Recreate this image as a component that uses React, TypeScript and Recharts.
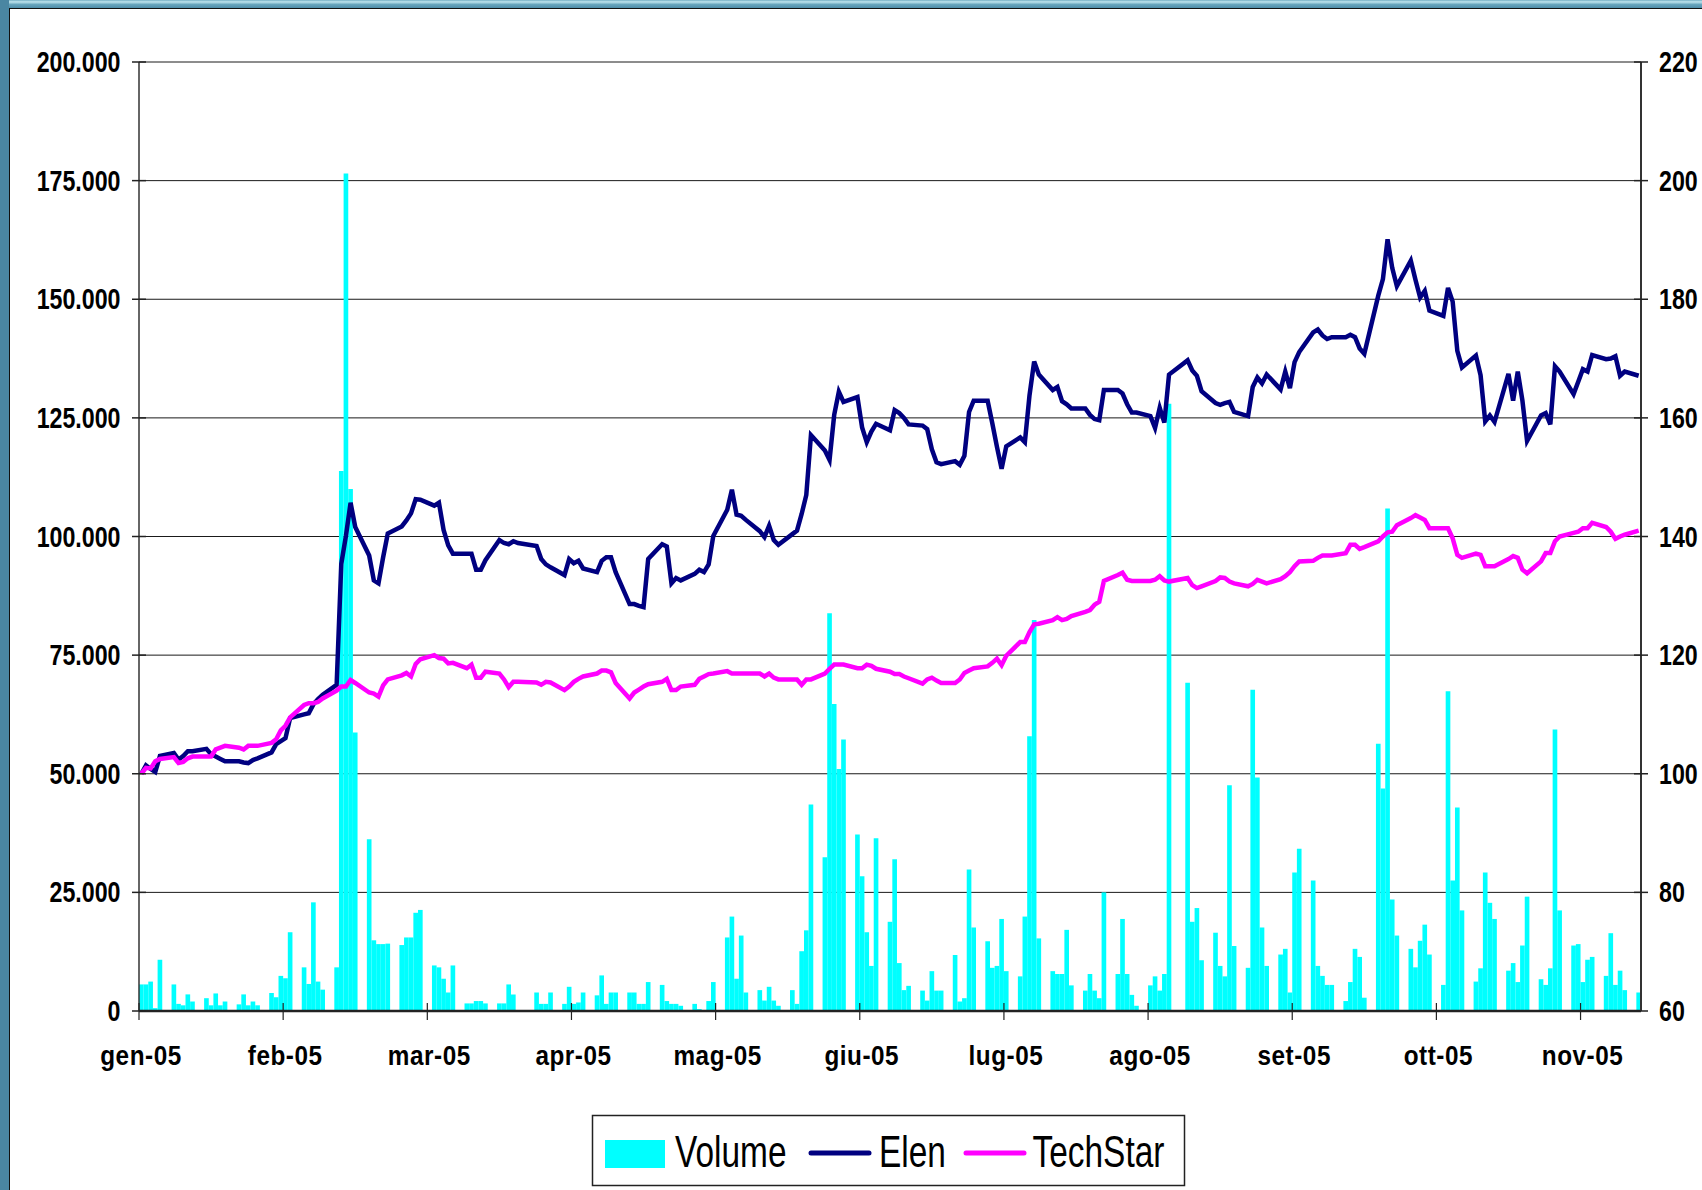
import React from 'react';
import { ComposedChart, Bar, Line, XAxis, YAxis, CartesianGrid } from 'recharts';

// ---- Calendar: trading days from 03/01/2005 to 21/11/2005 (weekends and exchange holidays skipped)
const START_DATE = '2005-01-03';
const LAST_DAY_OFFSET = 322;
const HOLIDAYS = ['2005-03-28', '2005-08-15'];

// ---- Daily traded volume (left axis), one row per week (Mon..Fri)
const volume = [
  5600, 5600, 6200, 600, 10800,
  5600, 1500, 1200, 3500, 2000,
  2700, 1200, 3700, 1200, 2000,
  1400, 3500, 1200, 2000, 1200,
  3800, 2900, 7400, 6900, 16600,
  9200, 5700, 22900, 6200, 4500,
  9200, 113800, 176500, 110000, 58700,
  36200, 14900, 14100, 14100, 14200,
  13900, 15500, 15500, 20700, 21300,
  9600, 9200, 6800, 3900, 9600,
  1600, 1600, 2100, 2100, 1600,
  1600, 1600, 5600, 3500, 0,
  3900, 1500, 1500, 3900,
  1500, 5100, 1500, 1800, 3900,
  3300, 7500, 1500, 3900, 3900,
  3900, 3900, 1500, 1500, 6100,
  5500, 2100, 1500, 1500, 1100,
  1500, 400, 0, 2100, 6100,
  15500, 19900, 6800, 15900, 3900,
  4400, 2200, 5100, 2200, 1100,
  4400, 1500, 12600, 17000, 43500,
  32400, 83800, 64700, 51000, 57200,
  37200, 28400, 16600, 9500, 36400,
  18800, 32000, 10100, 4400, 5300,
  4300, 2200, 8400, 4300, 4300,
  11800, 2000, 2700, 29800, 17600,
  14700, 9100, 9500, 19400, 8400,
  7300, 19900, 57900, 82400, 15300,
  8400, 7800, 7800, 17100, 5400,
  4300, 7800, 4300, 2700, 25000,
  7800, 19400, 7800, 3400, 1100,
  5400, 7300, 4300, 7800, 128000,
  69200, 18800, 21700, 10700,
  16500, 9500, 7300, 47600, 13700,
  9100, 67700, 49200, 17600, 9500,
  11900, 13100, 3900, 29200, 34200,
  27500, 9500, 7400, 5500, 5500,
  2100, 6100, 13100, 11400, 2800,
  56300, 46900, 105900, 23500, 15900,
  13100, 9200, 14800, 18200, 11900,
  5500, 67400, 27500, 42900, 21200,
  6200, 9000, 29200, 22800, 19400,
  8500, 10100, 6100, 13800, 24100,
  6700, 5500, 9000, 59300, 21200,
  13800, 14100, 6100, 10800, 11400,
  7400, 16400, 5500, 8500, 4400,
  3900,
];

// ---- Elen, indexed to 100 (right axis)
const elen = [
  100, 101.4, 100.8, 100.3, 103.0,
  103.5, 102.4, 103.0, 103.8, 103.8,
  104.2, 103.3, 102.9, 102.5, 102.1,
  102.1, 101.9, 101.8, 102.3, 102.6,
  103.6, 105.0, 105.5, 106.0, 109.4,
  110.0, 110.2, 111.7, 112.6, 113.3,
  115.0, 135.4, 140.1, 145.7, 141.6,
  136.8, 132.6, 132.1, 136.5, 140.5,
  141.7, 142.7, 143.9, 146.3, 146.2,
  145.2, 145.7, 141.1, 138.5, 137.1,
  137.1, 137.1, 134.4, 134.4, 136.0,
  139.4, 138.9, 138.7, 139.2, 138.9,
  138.4, 136.2, 135.3, 134.8,
  133.5, 136.2, 135.5, 135.9, 134.6,
  134.0, 135.9, 136.5, 136.5, 134.0,
  128.6, 128.6, 128.3, 128.1, 136.2,
  138.7, 138.3, 132.1, 133.0, 132.6,
  133.7, 134.4, 134.0, 135.3, 140.1,
  144.5, 147.9, 143.7, 143.5, 142.8,
  140.9, 139.9, 141.8, 139.4, 138.6,
  140.4, 141.0, 143.8, 147.0, 157.1,
  154.5, 152.9, 160.5, 164.4, 162.7,
  163.5, 158.4, 155.9, 157.7, 159.0,
  157.9, 161.3, 160.8, 160.0, 158.9,
  158.7, 158.1, 154.7, 152.5, 152.2,
  152.7, 152.1, 153.6, 161.0, 162.9,
  162.9, 159.1, 155.1, 151.4, 155.2,
  156.7, 155.9, 163.8, 169.5, 167.3,
  164.7, 165.2, 162.8, 162.3, 161.6,
  161.6, 160.5, 159.8, 159.6, 164.7,
  164.7, 164.1, 162.3, 160.9, 160.9,
  160.3, 158.3, 161.7, 159.2, 167.3,
  169.7, 168.0, 167.1, 164.5,
  162.5, 162.2, 162.5, 162.7, 161.0,
  160.3, 165.2, 166.8, 165.8, 167.3,
  164.8, 167.8, 165.0, 169.4, 171.1,
  174.4, 174.9, 173.9, 173.3, 173.6,
  173.6, 174.0, 173.6, 171.7, 170.8,
  180.6, 183.4, 190.1, 185.3, 182.2,
  186.5, 183.3, 180.3, 181.4, 178.1,
  177.2, 181.9, 179.6, 171.3, 168.5,
  170.5, 167.2, 159.4, 160.4, 159.3,
  167.4, 162.9, 167.8, 162.9, 156.1,
  160.4, 160.8, 158.9, 168.7, 167.8,
  164.0, 166.1, 168.2, 167.8, 170.6,
  169.9, 170.0, 170.4, 167.1, 167.8,
  167.1,
];

// ---- TechStar index, rebased to 100 (right axis)
const techStar = [
  100, 101.0, 100.9, 102.1, 102.5,
  102.8, 101.8, 102.0, 102.6, 102.9,
  102.9, 102.9, 104.1, 104.4, 104.7,
  104.4, 104.1, 104.7, 104.7, 104.7,
  105.2, 105.8, 107.3, 108.1, 109.5,
  111.6, 111.9, 111.9, 112.1, 112.7,
  114.0, 114.7, 114.7, 115.8, 115.3,
  113.7, 113.5, 113.0, 114.9, 115.9,
  116.6, 117.0, 116.4, 118.5, 119.3,
  120.0, 119.5, 119.4, 118.6, 118.7,
  117.8, 118.4, 116.2, 116.2, 117.2,
  116.9, 115.9, 114.6, 115.5, 115.5,
  115.4, 115.0, 115.5, 115.4,
  114.1, 114.7, 115.5, 116.0, 116.4,
  116.9, 117.4, 117.4, 117.1, 115.3,
  112.7, 113.7, 114.2, 114.7, 115.1,
  115.5, 116.0, 114.1, 114.1, 114.7,
  115.0, 116.0, 116.4, 116.8, 116.9,
  117.3, 116.9, 116.9, 116.9, 116.9,
  116.9, 116.4, 116.9, 116.2, 115.9,
  115.9, 115.9, 115.0, 115.9, 115.9,
  116.9, 117.7, 118.4, 118.4, 118.4,
  117.8, 117.8, 118.4, 118.2, 117.7,
  117.2, 116.8, 116.8, 116.4, 116.1,
  115.2, 115.9, 116.2, 115.7, 115.3,
  115.3, 115.9, 117.0, 117.4, 117.8,
  118.1, 118.7, 119.4, 118.3, 119.9,
  122.2, 122.2, 123.9, 125.2, 125.3,
  125.9, 126.4, 125.9, 126.1, 126.6,
  127.3, 127.6, 128.5, 129.0, 132.5,
  133.5, 133.9, 132.7, 132.5, 132.5,
  132.5, 132.7, 133.3, 132.6, 132.4,
  133.0, 131.8, 131.3, 131.6,
  132.5, 133.1, 133.0, 132.4, 132.1,
  131.6, 132.0, 132.7, 132.4, 132.1,
  132.8, 133.3, 134.0, 135.0, 135.8,
  135.9, 136.4, 136.8, 136.8, 136.8,
  137.2, 138.6, 138.6, 137.9, 138.2,
  139.2, 140.0, 140.7, 140.8, 141.9,
  143.1, 143.6, 143.2, 142.8, 141.4,
  141.4, 141.4, 139.7, 136.9, 136.4,
  137.1, 136.9, 135.0, 135.0, 135.0,
  136.2, 136.7, 136.4, 134.4, 133.8,
  135.8, 137.2, 137.2, 139.2, 140.0,
  140.6, 140.8, 141.4, 141.4, 142.3,
  141.6, 140.8, 139.6, 140.0, 140.3,
  141.0,
];

// ---- Axis ticks and labels
const monthLabels = ['gen-05', 'feb-05', 'mar-05', 'apr-05', 'mag-05', 'giu-05', 'lug-05', 'ago-05', 'set-05', 'ott-05', 'nov-05'];
const monthTickDays = [-0.5, 30.5, 61.5, 92.5, 123.5, 154.5, 185.5, 216.5, 247.5, 278.5, 309.5];
const volumeTicks = [0, 25000, 50000, 75000, 100000, 125000, 150000, 175000, 200000];
const indexTicks = [60, 80, 100, 120, 140, 160, 180, 200, 220];
const seriesNames = { volume: 'Volume', elen: 'Elen', techStar: 'TechStar' };

const COLORS = { volume: '#00FFFF', elen: '#000080', techStar: '#FF00FF' };
const FONT = '"Liberation Sans", Arial, sans-serif';

function buildTradingDays(): number[] {
  const out: number[] = [];
  const start = new Date(START_DATE + 'T00:00:00Z').getTime();
  for (let d = 0; d <= LAST_DAY_OFFSET; d++) {
    const t = new Date(start + d * 86400000);
    const wd = t.getUTCDay();
    const iso = t.toISOString().slice(0, 10);
    if (wd === 0 || wd === 6 || HOLIDAYS.includes(iso)) continue;
    out.push(d);
  }
  return out;
}

const tradingDays = buildTradingDays();
const rows = tradingDays.map((day, i) => ({
  day,
  volume: volume[i],
  elen: elen[i],
  techStar: techStar[i],
}));

const fmtThousands = (v: number) => (v === 0 ? '0' : String(v).replace(/\B(?=(\d{3})+(?!\d))/g, '.'));

const LeftTick = (props: any) => {
  const { x, y, payload } = props;
  return (
    <g>
      <line x1={x - 7} x2={x + 7} y1={y} y2={y} stroke="#222" strokeWidth={1.5} />
      <text
        transform={`translate(${x - 18.5}, ${y + 10}) scale(0.8, 1)`}
        textAnchor="end"
        fontFamily={FONT}
        fontWeight="bold"
        fontSize={29}
        fill="#000"
      >
        {fmtThousands(payload.value)}
      </text>
    </g>
  );
};

const RightTick = (props: any) => {
  const { x, y, payload } = props;
  return (
    <g>
      <line x1={x - 7} x2={x + 7} y1={y} y2={y} stroke="#222" strokeWidth={1.5} />
      <text
        transform={`translate(${x + 18}, ${y + 10}) scale(0.8, 1)`}
        textAnchor="start"
        fontFamily={FONT}
        fontWeight="bold"
        fontSize={29}
        fill="#000"
      >
        {payload.value}
      </text>
    </g>
  );
};

const BottomTick = (props: any) => {
  const { x, y, payload } = props;
  const idx = monthTickDays.indexOf(payload.value);
  return (
    <g>
      <line x1={x} x2={x} y1={y - 8} y2={y + 9} stroke="#222" strokeWidth={1.2} />
      <text
        transform={`translate(${x + 2}, ${y + 54}) scale(0.9, 1)`}
        textAnchor="middle"
        fontFamily={FONT}
        fontWeight="bold"
        fontSize={27}
        letterSpacing={0.6}
        fill="#000"
      >
        {idx >= 0 ? monthLabels[idx] : ''}
      </text>
    </g>
  );
};

const LegendBox = () => (
  <svg width={1702} height={1190} style={{ position: 'absolute', left: 0, top: 0, pointerEvents: 'none' }}>
    <rect x={592.5} y={1115.5} width={592} height={70} fill="#fff" stroke="#222" strokeWidth={1.5} />
    <rect x={605} y={1140} width={60} height={28} fill={COLORS.volume} />
    <text transform="translate(675, 1166.5) scale(0.76, 1)" fontFamily={FONT} fontSize={44} fill="#000">
      {seriesNames.volume}
    </text>
    <line x1={811} x2={869} y1={1153} y2={1153} stroke={COLORS.elen} strokeWidth={5} strokeLinecap="round" />
    <text transform="translate(879, 1166.5) scale(0.76, 1)" fontFamily={FONT} fontSize={44} fill="#000">
      {seriesNames.elen}
    </text>
    <line x1={966} x2={1024} y1={1153} y2={1153} stroke={COLORS.techStar} strokeWidth={5} strokeLinecap="round" />
    <text transform="translate(1032.5, 1166.5) scale(0.76, 1)" fontFamily={FONT} fontSize={44} fill="#000">
      {seriesNames.techStar}
    </text>
  </svg>
);

export default function App() {
  return (
    <div style={{ position: 'absolute', left: 0, top: 0, width: 1702, height: 1190, background: '#fff', overflow: 'hidden' }}>
      <div
        style={{
          position: 'absolute', left: 0, top: 0, width: 1702, height: 8,
          background: 'linear-gradient(to bottom, #5d9cb4 0px, #b5dde8 1px, #a6d2df 3px, #6aa8bf 4px, #4f8ea9 8px)',
        }}
      />
      <div style={{ position: 'absolute', left: 0, top: 0, width: 9, height: 1190, background: '#4a86a2' }} />
      <div
        style={{
          position: 'absolute', left: 9, top: 8, width: 1693, height: 1182,
          borderTop: '1px solid #111', borderLeft: '1px solid #111', boxSizing: 'border-box',
        }}
      />
      <div style={{ position: 'absolute', left: 0, top: 0 }}>
        <ComposedChart width={1702} height={1190} data={rows} margin={{ top: 62, right: 0, bottom: 0, left: 0 }}>
          <CartesianGrid vertical={false} stroke="#1a1a1a" strokeWidth={1} />
          <XAxis
            dataKey="day"
            type="number"
            domain={[-0.5, 322.5]}
            ticks={monthTickDays}
            interval={0}
            height={179}
            tickSize={0}
            tickMargin={0}
            tickLine={false}
            axisLine={{ stroke: '#222', strokeWidth: 2.5 }}
            tick={<BottomTick />}
          />
          <YAxis
            orientation="left"
            width={139}
            domain={[0, 200000]}
            ticks={volumeTicks}
            interval={0}
            tickSize={0}
            tickMargin={0}
            tickLine={false}
            axisLine={{ stroke: '#333', strokeWidth: 1.5 }}
            tick={<LeftTick />}
          />
          <YAxis
            yAxisId="idx"
            orientation="right"
            width={61}
            domain={[60, 220]}
            ticks={indexTicks}
            interval={0}
            tickSize={0}
            tickMargin={0}
            tickLine={false}
            axisLine={{ stroke: '#333', strokeWidth: 2 }}
            tick={<RightTick />}
          />
          <Bar dataKey="volume" name={seriesNames.volume} fill={COLORS.volume} barSize={4.65} isAnimationActive={false} />
          <Line
            yAxisId="idx"
            type="linear"
            dataKey="elen"
            name={seriesNames.elen}
            stroke={COLORS.elen}
            strokeWidth={4.5}
            dot={false}
            activeDot={false}
            isAnimationActive={false}
          />
          <Line
            yAxisId="idx"
            type="linear"
            dataKey="techStar"
            name={seriesNames.techStar}
            stroke={COLORS.techStar}
            strokeWidth={4.5}
            dot={false}
            activeDot={false}
            isAnimationActive={false}
          />
        </ComposedChart>
      </div>
      <LegendBox />
    </div>
  );
}
